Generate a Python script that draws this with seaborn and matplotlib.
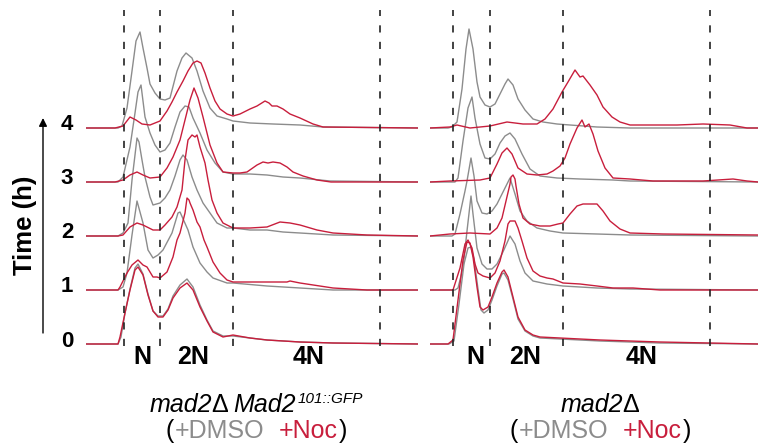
import numpy as np
import pandas as pd
import matplotlib
matplotlib.use('Agg')
import matplotlib.pyplot as plt
import seaborn as sns

# DNA content histograms, (channel offset, count)
# left panel: mad2D Mad2-101::GFP
gray_L0 = [(0,0),(32,0),(35,7),(39,31),(44,55),(49,76),(52,80),(57,70),(62,50),(67,33),(72,28),(77,28),(82,35),(87,48),(94,59),(101,65),(107,57),(114,39),(121,24),(127,13),(137,8),(147,8),(164,6),(181,4),(214,2),(247,1),(332,0)]
red_L0 = [(0,0),(32,0),(34,7),(39,31),(44,54),(49,74),(52,77),(57,69),(62,49),(67,33),(72,27),(77,27),(82,34),(87,46),(94,56),(101,61),(107,54),(114,37),(121,23),(127,12),(137,7),(147,9),(164,6),(181,4),(214,2),(247,1),(332,0)]
gray_L1 = [(0,0),(32,0),(37,3),(41,17),(46,55),(51,89),(57,67),(62,40),(67,32),(72,35),(77,40),(86,57),(92,77),(94,78),(102,60),(107,43),(114,27),(121,18),(127,12),(141,7),(147,7),(181,4),(214,2),(247,0),(332,0)]
red_L1 = [(0,0),(32,0),(34,3),(41,17),(46,25),(52,30),(57,25),(61,23),(67,13),(71,13),(74,12),(81,18),(87,33),(91,50),(94,57),(99,77),(101,92),(103,90),(104,87),(107,80),(111,68),(114,63),(118,50),(121,43),(127,28),(134,17),(141,10),(147,8),(164,8),(181,8),(201,8),(204,9),(214,7),(247,2),(281,0),(332,0)]
gray_L2 = [(0,0),(32,0),(37,3),(42,13),(46,56),(49,81),(51,98),(53,94),(56,76),(59,59),(64,39),(67,31),(74,33),(79,38),(84,46),(89,60),(94,76),(97,81),(101,76),(106,59),(111,46),(117,33),(124,23),(131,13),(141,8),(147,8),(164,6),(181,6),(197,4),(214,3),(247,1),(332,0)]
red_L2 = [(0,0),(32,0),(37,1),(44,9),(51,13),(57,11),(67,6),(74,6),(79,11),(86,19),(91,29),(96,46),(99,76),(102,96),(106,101),(109,99),(111,101),(114,89),(119,73),(122,56),(126,36),(131,23),(137,13),(147,8),(164,8),(181,9),(194,14),(204,13),(214,11),(231,6),(247,3),(281,1),(332,0)]
gray_L3 = [(0,0),(32,0),(37,5),(44,35),(49,69),(52,90),(55,97),(59,65),(64,49),(69,37),(74,30),(79,32),(84,39),(89,55),(94,70),(99,76),(103,75),(107,64),(114,49),(121,32),(129,19),(137,10),(147,8),(164,8),(181,7),(197,5),(214,4),(244,1),(332,0)]
red_L3 = [(0,0),(29,0),(37,2),(44,7),(51,10),(57,7),(64,4),(74,5),(81,14),(87,25),(94,42),(99,62),(104,82),(108,94),(112,84),(117,65),(124,37),(131,19),(137,10),(147,9),(154,9),(161,10),(171,17),(177,20),(182,19),(187,20),(194,19),(201,15),(207,10),(217,6),(231,2),(245,0),(332,0)]
gray_L4 = [(0,0),(32,0),(36,2),(41,20),(46,57),(50,87),(54,96),(57,80),(61,60),(64,44),(69,35),(74,29),(79,28),(84,30),(91,57),(96,70),(100,75),(106,70),(111,57),(117,37),(124,20),(131,12),(141,9),(147,7),(164,5),(187,4),(214,3),(237,1),(332,0)]
red_L4 = [(0,0),(29,0),(37,2),(44,11),(50,8),(56,4),(64,3),(74,7),(81,17),(86,26),(91,36),(97,47),(102,57),(107,65),(111,67),(115,65),(119,55),(124,40),(129,27),(134,19),(141,14),(147,12),(154,14),(164,19),(171,22),(179,27),(183,25),(186,22),(191,22),(197,19),(204,14),(214,10),(227,4),(237,1),(332,0)]

# right panel: mad2D
gray_R0 = [(0,0),(19,0),(24,3),(29,40),(34,80),(38,96),(41,97),(44,85),(48,55),(51,34),(54,31),(58,34),(62,44),(67,58),(72,70),(74,71),(78,64),(83,45),(88,25),(95,13),(103,8),(110,6),(130,5),(170,3),(230,1),(328,0)]
red_R0 = [(0,0),(18,0),(23,4),(28,44),(33,84),(37,102),(40,101),(43,87),(47,57),(50,37),(53,34),(58,37),(62,47),(67,61),(72,72),(74,74),(78,67),(83,47),(88,27),(95,14),(103,9),(110,7),(130,6),(170,4),(230,2),(328,0)]
gray_R1 = [(0,0),(25,0),(28,2),(33,22),(37,59),(41,94),(43,76),(47,42),(52,26),(57,21),(62,21),(67,26),(72,36),(77,47),(80,54),(85,46),(90,29),(95,17),(103,9),(117,6),(133,4),(167,2),(200,1),(328,0)]
red_R1 = [(0,0),(23,0),(30,22),(35,46),(38,50),(42,42),(45,26),(48,17),(53,14),(60,12),(65,17),(70,29),(75,49),(78,66),(80,69),(85,69),(88,62),(92,49),(97,32),(103,19),(110,14),(117,12),(123,11),(133,7),(150,6),(167,4),(183,2),(203,2),(230,0),(328,0)]
gray_R2 = [(0,0),(22,0),(25,2),(30,22),(35,45),(37,55),(41,78),(44,60),(47,35),(52,23),(57,22),(62,25),(67,32),(72,42),(77,52),(80,58),(85,42),(90,25),(97,15),(107,8),(120,5),(133,3),(167,2),(200,1),(328,0)]
red_R2 = [(0,0),(20,2),(40,3),(60,2),(67,8),(72,18),(76,35),(80,52),(81,59),(83,61),(85,57),(86,50),(89,32),(93,18),(100,12),(110,10),(120,10),(128,12),(133,13),(140,22),(147,30),(153,32),(160,32),(167,32),(173,25),(180,15),(190,7),(200,3),(233,2),(328,1)]
gray_R3 = [(0,0),(25,0),(28,4),(33,41),(38,74),(42,85),(45,64),(50,38),(55,24),(60,23),(65,28),(70,39),(75,46),(80,49),(85,43),(92,28),(100,13),(110,6),(127,4),(150,3),(183,2),(200,1),(328,0)]
red_R3 = [(0,0),(20,1),(50,2),(60,4),(67,18),(72,29),(77,34),(82,28),(88,14),(97,8),(107,7),(117,8),(123,11),(130,16),(135,24),(140,38),(147,54),(152,62),(155,55),(159,58),(163,48),(168,31),(175,14),(183,4),(200,3),(223,1),(273,1),(303,3),(317,1),(328,0)]
gray_R4 = [(0,0),(18,0),(22,1),(27,6),(32,39),(36,79),(39,99),(43,79),(47,46),(50,31),(55,23),(60,21),(65,24),(70,34),(75,44),(78,49),(83,43),(88,29),(95,18),(103,9),(113,6),(127,4),(140,3),(167,1),(200,0),(328,0)]
red_R4 = [(0,0),(20,1),(27,3),(40,0),(60,2),(77,6),(93,4),(107,4),(115,9),(123,19),(132,36),(138,46),(145,58),(150,51),(153,52),(160,43),(167,33),(173,21),(182,11),(190,6),(200,3),(223,3),(247,3),(273,4),(300,3),(317,0),(328,0)]

times = [0, 1, 2, 3, 4]
gates_L = [38, 74, 147, 294]
gates_R = [23, 60, 133, 280]
ploidy = ['N', '2N', '4N']
ploidy_L = [56, 107, 223]
ploidy_R = [45, 95, 212]

GRAY = '#8c8c8c'
RED = '#c81e3c'
STEP = 54

sns.set_style('white')
plt.rcParams['font.family'] = ['Liberation Sans', 'DejaVu Sans']
plt.rcParams['text.color'] = 'black'

W, H = 758, 444
fig = plt.figure(figsize=(W / 100, H / 100), dpi=100)
axL = fig.add_axes([86 / W, (H - 346) / H, 332 / W, 336 / H])
axR = fig.add_axes([430 / W, (H - 346) / H, 328 / W, 336 / H])


def stack(grays, reds):
    rows = []
    for t, g, r in zip(times, grays, reds):
        for x, y in g:
            rows.append(('DMSO', t, x, y + t * STEP))
        for x, y in r:
            rows.append(('Noc', t, x, y + t * STEP))
    return pd.DataFrame(rows, columns=['treatment', 'time', 'dna', 'level'])


dfL = stack([gray_L0, gray_L1, gray_L2, gray_L3, gray_L4],
            [red_L0, red_L1, red_L2, red_L3, red_L4])
dfR = stack([gray_R0, gray_R1, gray_R2, gray_R3, gray_R4],
            [red_R0, red_R1, red_R2, red_R3, red_R4])

for ax, df, gates, xmax, px in [(axL, dfL, gates_L, 332, ploidy_L),
                                (axR, dfR, gates_R, 328, ploidy_R)]:
    sns.lineplot(data=df, x='dna', y='level', hue='treatment', units='time',
                 estimator=None, palette={'DMSO': GRAY, 'Noc': RED},
                 lw=1.0, legend=False, ax=ax)
    for g in gates:
        ax.axvline(g, color='#222222', lw=1.2, ls=(0, (4.3, 5.6)))
    for lab, x in zip(ploidy, px):
        ax.text(x, -13, lab, ha='center', va='center', fontsize=18, fontweight='bold')
    ax.set_xlim(0, xmax)
    ax.set_ylim(-2, 334)
    ax.axis('off')

for t in times:
    axL.text(-19, t * STEP + 3, str(t), ha='center', va='center',
             fontsize=16, fontweight='bold')
axL.annotate('', xy=(-43, 226), xytext=(-43, 11), annotation_clip=False,
             arrowprops=dict(arrowstyle='-|>', color='k', lw=1.0,
                             mutation_scale=12, shrinkA=0, shrinkB=0))
axL.text(-61, 119, 'Time (h)', rotation=90, ha='center', va='center',
         fontsize=18.5, fontweight='bold')

renderer = fig.canvas.get_renderer()


def rich_line(xc, ybase, parts):
    objs = []
    total = 0
    for s, color, size, style, dy, pad in parts:
        t = fig.text(0, 0, s, color=color, fontsize=size, fontstyle=style,
                     va='baseline', ha='left')
        w = t.get_window_extent(renderer).width if s else 0
        objs.append((t, w, dy, pad))
        total += w + pad
    x = xc - total / 2
    for t, w, dy, pad in objs:
        t.set_position((x / W, (H - ybase + dy) / H))
        x += w + pad


rich_line(256, 412, [('mad2', 'k', 18, 'italic', 0, -1),
                     ('\u0394', 'k', 18, 'normal', 0, 6),
                     ('Mad2', 'k', 18, 'italic', 0, 1),
                     ('101::GFP', 'k', 11, 'italic', 9, 0)])
rich_line(256, 438, [('(', 'k', 18, 'normal', 0, 1),
                     ('+DMSO', GRAY, 18, 'normal', 0, 14),
                     ('+Noc', RED, 18, 'normal', 0, 1),
                     (')', 'k', 18, 'normal', 0, 0)])
rich_line(600, 412, [('mad2', 'k', 18, 'italic', 0, -1),
                     ('\u0394', 'k', 18, 'normal', 0, 0)])
rich_line(600, 438, [('(', 'k', 18, 'normal', 0, 1),
                     ('+DMSO', GRAY, 18, 'normal', 0, 14),
                     ('+Noc', RED, 18, 'normal', 0, 1),
                     (')', 'k', 18, 'normal', 0, 0)])

fig.savefig('out.png', dpi=100)
